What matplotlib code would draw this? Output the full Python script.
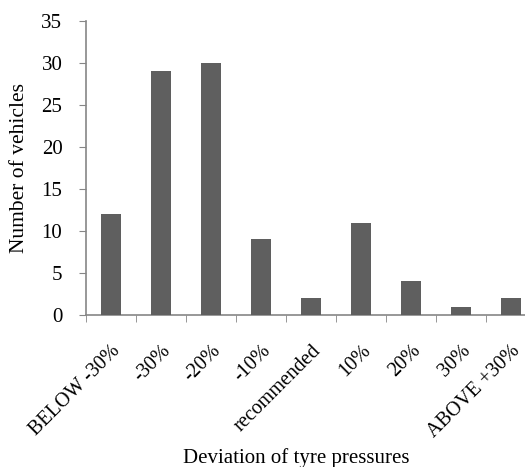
import matplotlib
matplotlib.use("Agg")
import matplotlib.pyplot as plt
from matplotlib.ticker import FixedLocator

categories = ["BELOW -30%", "-30%", "-20%", "-10%", "recommended", "10%", "20%", "30%", "ABOVE +30%"]
values = [12, 29, 30, 9, 2, 11, 4, 1, 2]

plt.rcParams['font.family'] = ['Liberation Serif', 'DejaVu Serif']

fig = plt.figure(figsize=(5.25, 4.67), dpi=100)
ax = fig.add_axes([86/525, 1-315/467, 1-86/525, (315-21)/467])

x = list(range(len(categories)))
ax.bar(x, values, width=0.4, color='#5f5f5f', zorder=3)

ax.set_ylim(0, 35)
ax.set_yticks(range(0, 36, 5))
ax.set_xlim(-0.5, (525-86)/50 - 0.5)

ax.set_xticks(x)
ax.set_xticklabels(categories, rotation=45, ha='right', rotation_mode='anchor', fontsize=14.5)
ax.tick_params(axis='x', which='major', length=0, pad=19)
ax.xaxis.set_minor_locator(FixedLocator([i - 0.5 for i in range(len(categories) + 1)]))
ax.tick_params(axis='x', which='minor', length=5, color='#868686', direction='out')
ax.tick_params(axis='y', length=5, color='#868686', labelsize=15, pad=12)

for s in ['top', 'right']:
    ax.spines[s].set_visible(False)
for s in ['left', 'bottom']:
    ax.spines[s].set_color('#868686')
    ax.spines[s].set_linewidth(1.2)

ax.set_ylabel("Number of vehicles", fontsize=15.5)
ax.yaxis.set_label_coords(-(86-29)/439, (315-168)/294)
fig.text(296/525, 1-458/467, "Deviation of tyre pressures", ha='center', va='center', fontsize=15)

fig.savefig("out.png", dpi=100)
